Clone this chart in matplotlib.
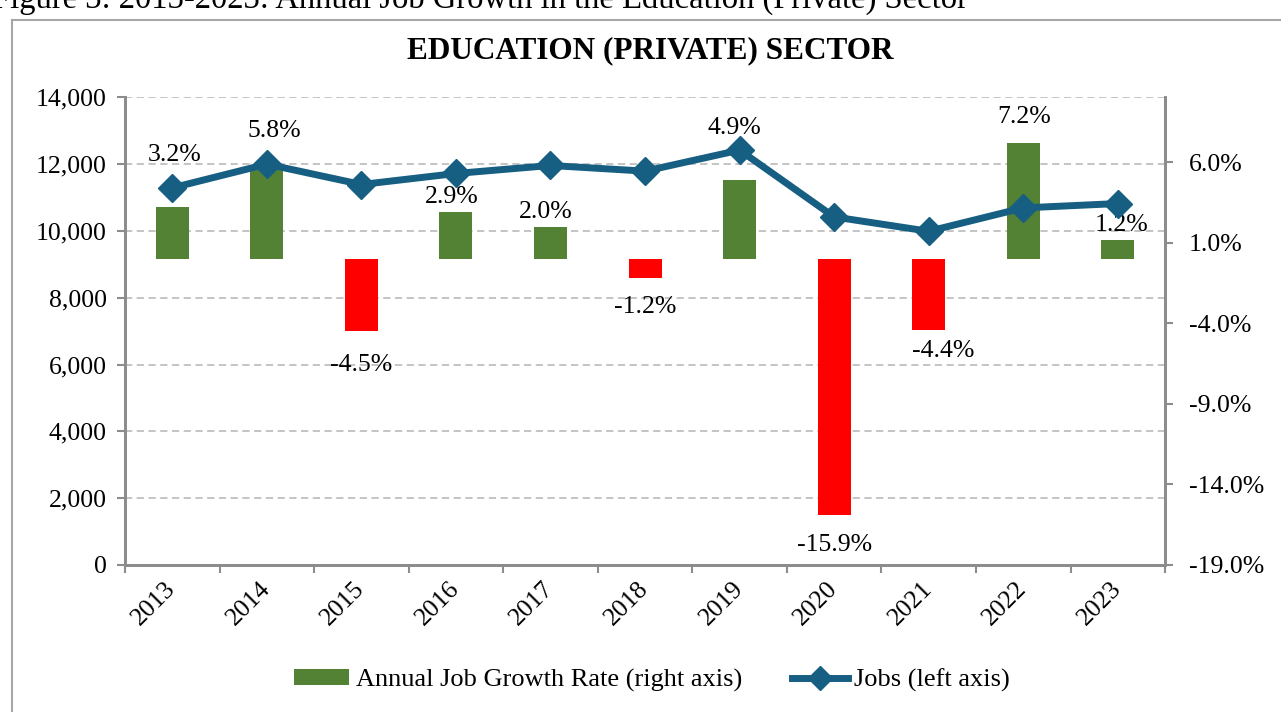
import numpy as np
import matplotlib
matplotlib.use('Agg')
import matplotlib.pyplot as plt
from matplotlib.lines import Line2D
from matplotlib.patches import Patch
from matplotlib.ticker import FuncFormatter, FixedLocator

# ── Data ──────────────────────────────────────────────────────────────────────
YEARS  = ['2013', '2014', '2015', '2016', '2017', '2018',
          '2019', '2020', '2021', '2022', '2023']
JOBS   = [11290, 12000, 11390, 11720, 11960, 11790,
          12420, 10420, 9990, 10690, 10820]
GROWTH = [3.2, 5.8, -4.5, 2.9, 2.0, -1.2, 4.9, -15.9, -4.4, 7.2, 1.2]

# label nudges in pixels (x, y away from bar end), hand-placed in the source
LABEL_DX = [2, 7, 0, -4, -5, 0, -5, 0, 14, 1, 4]
LABEL_DY = [52, 35, 34, 15, 15, 29, 52, 30, 21, 26, 15]

# ── Style ─────────────────────────────────────────────────────────────────────
GREEN = '#548235'
RED   = '#FF0000'
NAVY  = '#175E83'
GRID  = '#BFBFBF'
AXIS  = '#8C8C8C'
FS    = 18.5

plt.rcParams['font.family'] = ['Liberation Serif', 'DejaVu Serif']

fig = plt.figure(figsize=(12.81, 7.12), dpi=100)
ax1 = fig.add_axes([0.0976, 0.2065, 0.8119, 0.6568])   # jobs scale + grid
ax2 = ax1.twinx()                                       # growth bars
ax3 = ax1.twinx()                                       # jobs line on top

x = np.arange(len(YEARS))

# left axis (jobs)
ax1.set_ylim(0, 14000)
ax1.set_xlim(-0.5, len(YEARS) - 0.5)
ax1.set_yticks(np.arange(0, 14001, 2000))
ax1.yaxis.set_major_formatter(FuncFormatter(lambda v, p: f'{v:,.0f}'))
ax1.grid(axis='y', color=GRID, ls=(0, (4, 2.5)), lw=1.3)
ax1.set_axisbelow(True)
ax1.tick_params(axis='y', labelsize=FS, length=6, width=1.5, color=AXIS, pad=7)

# category boundaries as tick marks, labels in the middle
ax1.xaxis.set_major_locator(FixedLocator(np.arange(-0.5, len(YEARS), 1.0)))
ax1.xaxis.set_major_formatter(FuncFormatter(lambda v, p: ''))
ax1.xaxis.set_minor_locator(FixedLocator(x))
ax1.set_xticklabels(YEARS, minor=True)
ax1.tick_params(axis='x', which='major', length=6, width=1.5, color=AXIS)
ax1.tick_params(axis='x', which='minor', length=0, labelsize=FS, pad=15)
for lab in ax1.get_xticklabels(minor=True):
    lab.set_rotation(45)
    lab.set_ha('right')
    lab.set_va('center')
    lab.set_rotation_mode('anchor')

for a in (ax1, ax2, ax3):
    for side in ('left', 'right', 'bottom'):
        a.spines[side].set_color(AXIS)
        a.spines[side].set_linewidth(1.8)
    a.spines['top'].set_visible(False)

# right axis (growth)
ax2.set_ylim(-19, 10.04)
ax2.set_yticks(np.arange(-19, 7, 5))
ax2.yaxis.set_major_formatter(FuncFormatter(lambda v, p: f'{v:.1f}%'))
ax2.tick_params(axis='y', labelsize=FS, length=6, width=1.5, color=AXIS, pad=11)

colors = [GREEN if g >= 0 else RED for g in GROWTH]
ax2.bar(x, GROWTH, width=0.35, color=colors, zorder=2)

px2pt = 72.0 / fig.dpi
for i, g in enumerate(GROWTH):
    sgn = 1 if g >= 0 else -1
    ax2.annotate(f'{g:.1f}%', xy=(x[i], g),
                 xytext=(LABEL_DX[i] * px2pt, sgn * LABEL_DY[i] * px2pt),
                 textcoords='offset points', ha='center', va='center',
                 fontsize=FS)

# jobs line
ax3.set_ylim(0, 14000)
ax3.plot(x, JOBS, color=NAVY, lw=5, marker='D', ms=14.5, zorder=3,
         solid_joinstyle='round')
ax3.set_yticks([])
ax3.tick_params(axis='y', length=0)

# title and cut-off caption above the chart frame
fig.text(0.508, 0.929, 'EDUCATION (PRIVATE) SECTOR', ha='center', va='center',
         fontsize=22.5, fontweight='bold')
fig.text(-0.006, 1 - 8 / 712, 'Figure 3: 2013-2023: Annual Job Growth in the '
         'Education (Private) Sector', ha='left', va='baseline', fontsize=23.5)

# chart-area frame (only left and top edges are inside the crop)
fig.add_artist(Line2D([12 / 1281, 12 / 1281], [0, 1 - 20 / 712],
                      transform=fig.transFigure, color='#A6A6A6', lw=1.5))
fig.add_artist(Line2D([12 / 1281, 1], [1 - 20 / 712, 1 - 20 / 712],
                      transform=fig.transFigure, color='#A6A6A6', lw=1.5))

# legend
handles = [Patch(facecolor=GREEN, edgecolor='none'),
           Line2D([], [], color=NAVY, lw=5, marker='D', ms=12)]
fig.legend(handles, ['Annual Job Growth Rate (right axis)', 'Jobs (left axis)'],
           loc='center', bbox_to_anchor=(0.509, 0.045), ncol=2, frameon=False,
           fontsize=19, handlelength=2.1, handleheight=0.55,
           handletextpad=0.25, columnspacing=1.9)

fig.savefig('out.png', dpi=100)
